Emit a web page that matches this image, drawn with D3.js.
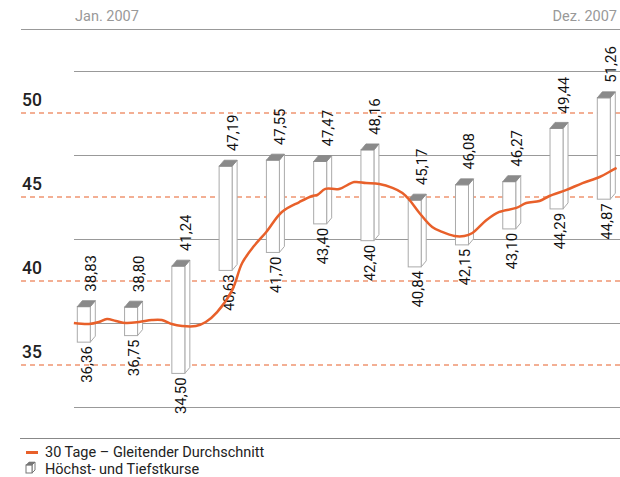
<!DOCTYPE html>
<html><head><meta charset="utf-8">
<script src="https://cdn.jsdelivr.net/npm/d3@7"></script>
<style>body{margin:0;background:#fff}svg{display:block}text{font-family:Roboto,"DejaVu Sans",sans-serif}</style>
</head><body><svg id="c" width="620" height="477"></svg>
<script>
const months = ["Jan","Feb","Mär","Apr","Mai","Jun","Jul","Aug","Sep","Okt","Nov","Dez"];
const highs = [38.83,38.80,41.24,47.19,47.55,47.47,48.16,45.17,46.08,46.27,49.44,51.26];
const lows  = [36.36,36.75,34.50,40.63,41.70,43.40,42.40,40.84,42.15,43.10,44.29,44.87];
// 30-day moving average: position in months (0 = Jan) and value
const maT = [-0.21,0.11,0.32,0.49,0.68,0.89,1.17,1.44,1.65,1.86,2.08,2.37,2.58,2.82,3.14,3.35,3.60,3.86,4.19,4.56,4.83,4.94,5.11,5.40,5.72,5.97,6.25,6.53,6.74,6.89,7.10,7.37,7.58,7.84,8.05,8.22,8.52,8.79,9.15,9.36,9.64,9.85,10.21,10.55,10.91,11.19,11.27];
const maV = [37.50,37.44,37.56,37.74,37.62,37.50,37.56,37.68,37.68,37.44,37.32,37.32,37.56,38.15,39.46,41.07,42.08,42.92,44.11,44.70,45.06,45.12,45.48,45.48,45.89,45.83,45.77,45.54,45.24,44.82,44.05,43.21,42.92,42.68,42.68,42.86,43.63,44.11,44.35,44.64,44.76,45.06,45.42,45.83,46.19,46.61,46.73];
const yTicks = [35,40,45,50];
const gridVals = [32.5,37.5,42.5,47.5,52.5];
const periodLabels = ["Jan. 2007","Dez. 2007"];
const legendLabels = ["30 Tage – Gleitender Durchschnitt","Höchst- und Tiefstkurse"];

const ORANGE = "#e8602a";
const svg = d3.select("#c");
const y = d3.scaleLinear().domain([35,50]).range([365,113]);
const x = d3.scalePoint().domain(months).range([83.8,603.8]);
const xt = d3.scaleLinear().domain([0,11]).range([83.8,603.8]);
const fmt = v => v.toFixed(2).replace(".", ",");

// top rule and period labels
svg.append("line").attr("x1",21).attr("x2",620).attr("y1",29.5).attr("y2",29.5).attr("stroke","#999").attr("stroke-width",1);
svg.append("text").attr("x",75).attr("y",21).attr("font-size",14.5).attr("fill","#999").text(periodLabels[0]);
svg.append("text").attr("x",617).attr("y",21).attr("font-size",14.5).attr("fill","#999").attr("text-anchor","end").text(periodLabels[1]);

// grey grid
svg.selectAll(".grid").data(gridVals).join("line").attr("class","grid")
  .attr("x1",74).attr("x2",620).attr("y1",d=>Math.round(y(d))+0.5).attr("y2",d=>Math.round(y(d))+0.5)
  .attr("stroke","#999").attr("stroke-width",1);
// bottom rule
svg.append("line").attr("x1",20).attr("x2",620).attr("y1",438.5).attr("y2",438.5).attr("stroke","#888").attr("stroke-width",1);

// dashed value lines + labels
svg.selectAll(".dash").data(yTicks).join("line").attr("class","dash")
  .attr("x1",21).attr("x2",620).attr("y1",d=>Math.round(y(d))).attr("y2",d=>Math.round(y(d)))
  .attr("stroke",ORANGE).attr("stroke-width",1.1).attr("stroke-dasharray","5,4");
svg.selectAll(".ylab").data(yTicks).join("text").attr("class","ylab")
  .attr("x",22).attr("y",d=>y(d)-7).attr("font-size",17.5).attr("font-weight",500).attr("fill","#222").text(d=>d);

// 3D bars
const W = 13, DX = 5, DY = 6;
const bars = svg.selectAll(".bar").data(months).join("g").attr("class","bar");
bars.each(function(m,i){
  const g = d3.select(this);
  const l = x(m) - W/2;
  const yt = y(highs[i]) + DY, yb = y(lows[i]);
  g.append("path").attr("d",`M${l+W},${yt}L${l+W+DX},${yt-DY}L${l+W+DX},${yb-DY}L${l+W},${yb}Z`)
    .attr("fill","#fff").attr("stroke","#aaa").attr("stroke-width",1);
  g.append("rect").attr("x",l).attr("y",yt).attr("width",W).attr("height",yb-yt)
    .attr("fill","#fff").attr("stroke","#aaa").attr("stroke-width",1);
  g.append("path").attr("d",`M${l},${yt}L${l+DX},${yt-DY}L${l+W+DX},${yt-DY}L${l+W},${yt}Z`)
    .attr("fill","#8a8a8a").attr("stroke","#8a8a8a").attr("stroke-width",0.8);
  g.append("text").attr("transform",`translate(${l+19},${y(highs[i])-9}) rotate(-90)`)
    .attr("font-size",15).attr("fill","#111").text(fmt(highs[i]));
  g.append("text").attr("transform",`translate(${l+14.5},${yb+4}) rotate(-90)`)
    .attr("font-size",15).attr("fill","#111").attr("text-anchor","end").text(fmt(lows[i]));
});

// moving average line
const line = d3.line().x((d,i)=>xt(maT[i])).y(d=>y(d)).curve(d3.curveCatmullRom);
svg.append("path").attr("d",line(maV)).attr("fill","none").attr("stroke",ORANGE).attr("stroke-width",2.5);

// legend
svg.append("line").attr("x1",26).attr("x2",38).attr("y1",452.5).attr("y2",452.5).attr("stroke",ORANGE).attr("stroke-width",3);
svg.append("text").attr("x",45).attr("y",457).attr("font-size",14.5).attr("fill","#222").text(legendLabels[0]);
const lg = svg.append("g");
lg.append("path").attr("d","M32,465L35,462L35,470L32,473Z").attr("fill","#fff").attr("stroke","#777");
lg.append("rect").attr("x",26).attr("y",465).attr("width",6).attr("height",8).attr("fill","#fff").attr("stroke","#777");
lg.append("path").attr("d","M26,465L29,462L35,462L32,465Z").attr("fill","#777").attr("stroke","#777").attr("stroke-width",0.6);
svg.append("text").attr("x",45).attr("y",474).attr("font-size",14.5).attr("fill","#222").text(legendLabels[1]);
</script></body></html>
